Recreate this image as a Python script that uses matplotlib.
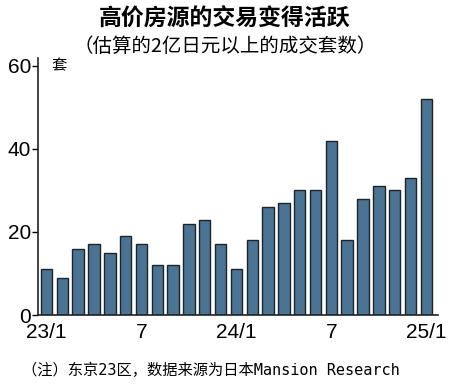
import numpy as np
import matplotlib.pyplot as plt

# 月度数据 23/1 ~ 25/1
months = ['23/1', '2', '3', '4', '5', '6', '7', '8', '9', '10', '11', '12',
          '24/1', '2', '3', '4', '5', '6', '7', '8', '9', '10', '11', '12', '25/1']
counts = [11, 9, 16, 17, 15, 19, 17, 12, 12, 22, 23, 17,
          11, 18, 26, 27, 30, 30, 42, 18, 28, 31, 30, 33, 52]
tick_pos = [0, 6, 12, 18, 24]
tick_labels = ['23/1', '7', '24/1', '7', '25/1']
y_ticks = [0, 20, 40, 60]

num_font = 'Liberation Sans'
cjk = ['Noto Sans CJK SC', 'DejaVu Sans']
plt.rcParams['font.family'] = cjk

fig = plt.figure(figsize=(4.5, 3.9), dpi=100)
ax = fig.add_axes([0.0844, 0.1923, 0.8886, 0.66])

x = np.arange(len(counts))
ax.bar(x, counts, width=0.72, color='#4b7393', edgecolor='#1e2428', linewidth=1.0, zorder=2)

ax.set_xlim(-0.54, 24.73)
ax.set_ylim(0, 62)
ax.set_yticks(y_ticks)
ax.set_yticklabels([str(v) for v in y_ticks], fontfamily=num_font, fontsize=15)
ax.set_xticks(tick_pos)
ax.set_xticklabels(tick_labels, fontfamily=num_font, fontsize=15)
ax.tick_params(axis='x', length=0, pad=6)
ax.tick_params(axis='y', length=4, width=1, pad=1, direction='out')
for lab in ax.get_yticklabels():
    lab.set_va('center_baseline')
for s in ['top', 'right']:
    ax.spines[s].set_visible(False)
for s in ['left', 'bottom']:
    ax.spines[s].set_linewidth(1.2)
    ax.spines[s].set_color('#222222')

ax.text(0.3, 60, '套', fontsize=11, va='center', ha='left')

fig.text(0.5, 0.953, '高价房源的交易变得活跃', ha='center', va='center',
         fontsize=16.5, fontweight='bold')
fig.text(0.5, 0.88, '（估算的2亿日元以上的成交套数）', ha='center', va='center',
         fontsize=14)
fig.text(0.049, 0.051, '（注）东京23区，数据来源为日本Mansion Research', ha='left',
         va='center', fontsize=11, family=['DejaVu Sans Mono', 'Noto Sans CJK SC'])

fig.savefig('out.png', dpi=100)
